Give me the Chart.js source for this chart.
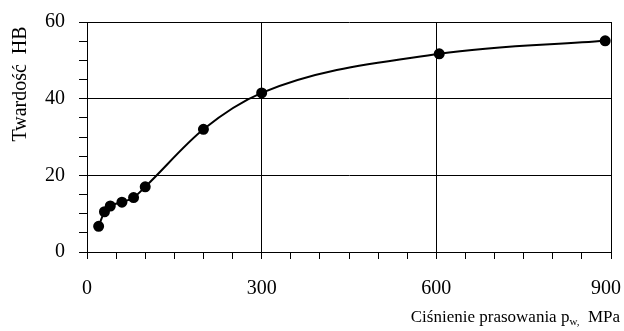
<!DOCTYPE html>
<html>
<head>
<meta charset="utf-8">
<script src="https://cdn.jsdelivr.net/npm/chart.js@4.4.1/dist/chart.umd.min.js"></script>
<style>
  html, body { margin: 0; padding: 0; background: #fff; }
</style>
</head>
<body>
<canvas id="hb" width="624" height="331"></canvas>
<script>
// data
const pressure = [20, 30, 40, 60, 80, 100, 200, 300, 605, 890]; // MPa
const hardness = [6.7, 10.5, 12, 13, 14.2, 17, 32, 41.5, 51.7, 55.1]; // HB
const xTicks = [0, 300, 600, 900];
const yTicks = [0, 20, 40, 60];

const serif = "'Liberation Serif', 'Times New Roman', serif";

// axis titles (with subscript w) drawn by hand
const titles = {
  id: 'titles',
  afterDraw(chart) {
    const c = chart.ctx;
    c.save();
    c.fillStyle = '#000';
    c.textBaseline = 'alphabetic';
    // x title, right aligned
    const main = 'Ciśnienie prasowania p';
    const sub = 'w,';
    const tail = '  MPa';
    c.font = '17px ' + serif;
    const wMain = c.measureText(main).width;
    const wTail = c.measureText(tail).width;
    c.font = '11px ' + serif;
    const wSub = c.measureText(sub).width;
    let x = 620 - wMain - wSub - wTail;
    const base = 322;
    c.font = '17px ' + serif;
    c.fillText(main, x, base);
    x += wMain;
    c.font = '11px ' + serif;
    c.fillText(sub, x, base + 3);
    x += wSub;
    c.font = '17px ' + serif;
    c.fillText(tail, x, base);
    // y title, rotated
    c.translate(26, 84);
    c.rotate(-Math.PI / 2);
    c.textAlign = 'center';
    c.font = '20px ' + serif;
    c.fillText('Twardość  HB', 0, 0);
    c.restore();
  }
};

const ctx = document.getElementById('hb').getContext('2d');
const hbChart = new Chart(ctx, {
  type: 'line',
  data: {
    datasets: [{
      data: pressure.map((p, i) => ({ x: p, y: hardness[i] })),
      borderColor: '#000',
      backgroundColor: '#000',
      borderWidth: 2,
      pointRadius: 4.5,
      pointHoverRadius: 4.5,
      cubicInterpolationMode: 'monotone',
      fill: false
    }]
  },
  options: {
    responsive: false,
    devicePixelRatio: 1,
    animation: false,
    layout: { padding: { top: 22, right: 13, left: 0, bottom: 0 } },
    plugins: {
      legend: { display: false },
      tooltip: { enabled: false }
    },
    scales: {
      x: {
        type: 'linear',
        min: 0,
        max: 900,
        border: { color: '#000', width: 1 },
        grid: {
          color: c => xTicks.includes(c.tick.value) ? '#000' : 'rgba(0,0,0,0)',
          tickColor: '#000',
          tickLength: 7,
          lineWidth: 1
        },
        ticks: {
          stepSize: 50,
          autoSkip: false,
          maxRotation: 0,
          padding: 18,
          color: '#000',
          font: { family: serif, size: 20 },
          // last label kept inside the canvas
          callback: v => !xTicks.includes(v) ? '' : (v === 900 ? v + '\u2002' : String(v))
        },
        afterFit(s) {
          s.height = 79;
          s.paddingRight = 0;
          s.paddingLeft = 0;
        }
      },
      y: {
        min: 0,
        max: 60,
        border: { color: '#000', width: 1 },
        grid: {
          color: c => yTicks.includes(c.tick.value) ? '#000' : 'rgba(0,0,0,0)',
          tickColor: '#000',
          tickLength: 8,
          lineWidth: 1
        },
        ticks: {
          stepSize: 5,
          autoSkip: false,
          padding: 14,
          color: '#000',
          font: { family: serif, size: 20 },
          callback: v => yTicks.includes(v) ? String(v) : ''
        },
        afterFit(s) {
          s.width = 87;
          s.paddingTop = 0;
          s.paddingBottom = 0;
        }
      }
    }
  },
  plugins: [titles]
});
</script>
</body>
</html>
